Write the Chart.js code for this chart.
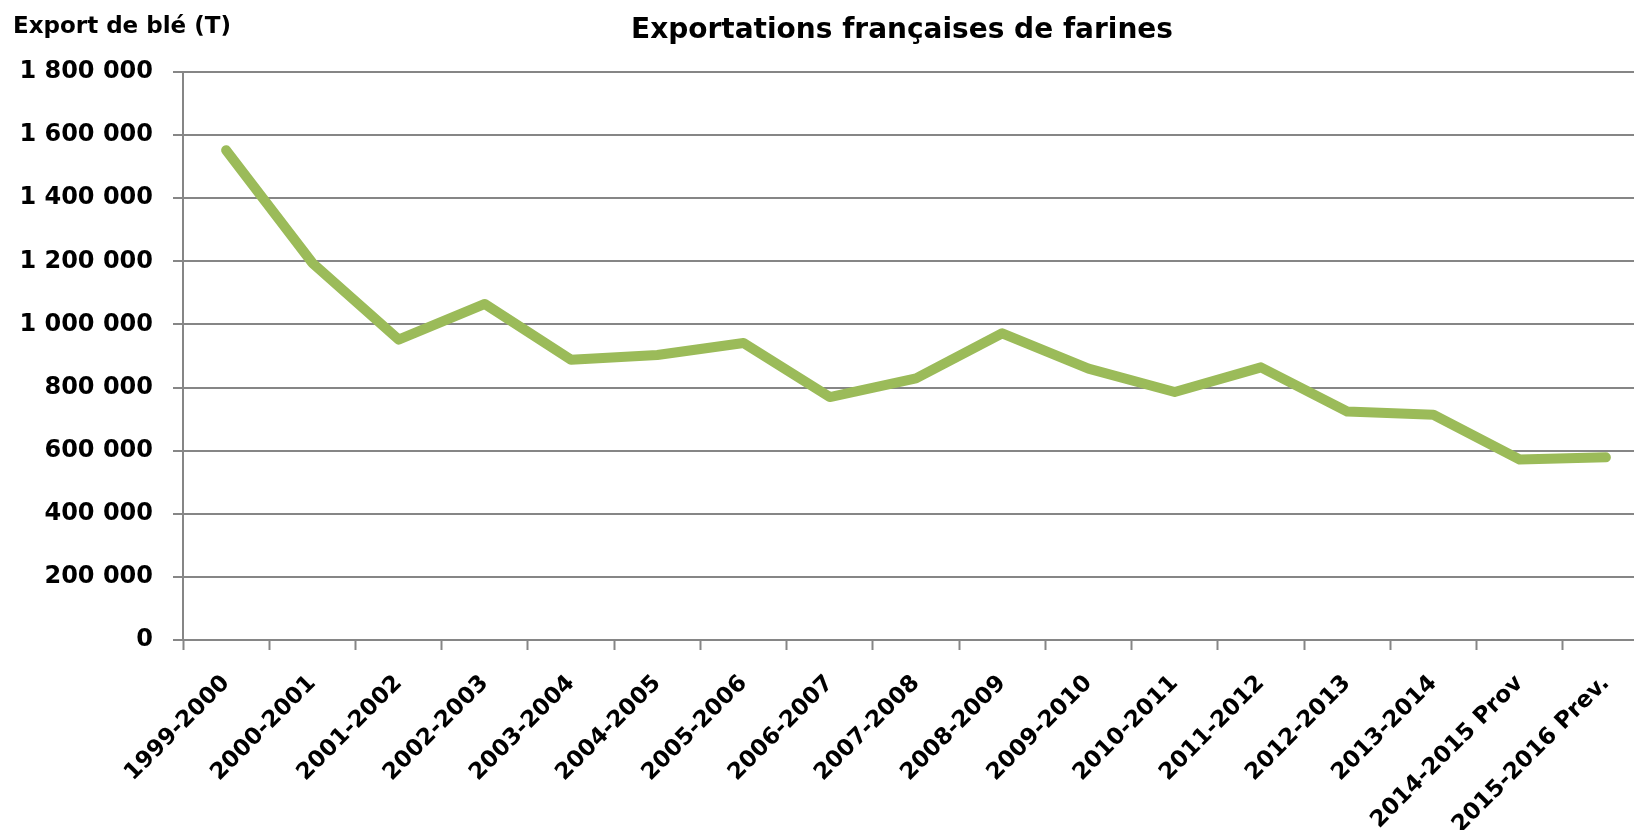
<!DOCTYPE html>
<html>
<head>
<meta charset="utf-8">
<script src="https://cdn.jsdelivr.net/npm/chart.js@4.4.1/dist/chart.umd.min.js"></script>
<style>
  html, body { margin: 0; padding: 0; background: #fff; overflow: hidden; }
  #wrap { width: 1634px; height: 830px; overflow: hidden; }
</style>
</head>
<body>
<div id="wrap"><canvas id="exportChart" width="1660" height="830"></canvas></div>
<script>
// campagnes
const campagnes = ["1999-2000", "2000-2001", "2001-2002", "2002-2003", "2003-2004", "2004-2005",
  "2005-2006", "2006-2007", "2007-2008", "2008-2009", "2009-2010", "2010-2011", "2011-2012",
  "2012-2013", "2013-2014", "2014-2015 Prov", "2015-2016 Prev."]

// exportations de farines (T)
const exportations = [1552000, 1195000, 952000, 1065000, 888000, 903000,
  941000, 770000, 829000, 972000, 860000, 786000, 864000,
  724000, 714000, 572000, 579000]

const yTicks = [0, 200000, 400000, 600000, 800000, 1000000, 1200000, 1400000, 1600000, 1800000]

const titre = "Exportations françaises de farines"
const titreAxe = "Export de blé (T)"

const FONT = "'DejaVu Sans', sans-serif"
const GRIS = "#868686"

// titles drawn at fixed spots like in the excel export
const titlesPlugin = {
  id: "titles",
  afterDraw(chart) {
    const ctx = chart.ctx
    ctx.save()
    ctx.fillStyle = "#000"
    ctx.textBaseline = "alphabetic"
    ctx.font = "bold 28px " + FONT
    ctx.textAlign = "center"
    ctx.fillText(titre, 902, 38)
    ctx.font = "bold 23px " + FONT
    ctx.textAlign = "left"
    ctx.fillText(titreAxe, 13, 33)
    ctx.restore()
  },
}

const ctx = document.getElementById("exportChart").getContext("2d")
new Chart(ctx, {
  type: "line",
  data: {
    labels: campagnes,
    datasets: [
      {
        data: exportations,
        borderColor: "#9BBB59",
        borderWidth: 10,
        pointRadius: 0,
        tension: 0,
        borderJoinStyle: "round",
        borderCapStyle: "round",
      },
    ],
  },
  options: {
    responsive: false,
    animation: false,
    layout: { padding: { top: 72, right: 11, left: 0, bottom: 0 } },
    plugins: { legend: { display: false }, title: { display: false }, tooltip: { enabled: false } },
    scales: {
      x: {
        offset: true,
        grid: { offset: true, drawOnChartArea: false, drawTicks: true, tickLength: 10, tickColor: GRIS, tickWidth: 2 },
        border: { color: GRIS, width: 2 },
        ticks: {
          autoSkip: false,
          minRotation: 45,
          maxRotation: 45,
          padding: 20,
          color: "#000",
          font: { family: FONT, size: 23, weight: "bold" },
        },
        afterFit: (scale) => { scale.height = 190 },
      },
      y: {
        min: 0,
        max: 1800000,
        afterBuildTicks: (scale) => { scale.ticks = yTicks.map((v) => ({ value: v })) },
        grid: { color: GRIS, lineWidth: 2, tickLength: 10, tickColor: GRIS },
        border: { color: GRIS, width: 2 },
        ticks: {
          padding: 20,
          color: "#000",
          font: { family: FONT, size: 24, weight: "bold" },
          callback: (v) => v.toString().replace(/\B(?=(\d{3})+(?!\d))/g, " "),
        },
        afterFit: (scale) => { scale.width = 183 },
      },
    },
  },
  plugins: [titlesPlugin],
})
</script>
</body>
</html>
